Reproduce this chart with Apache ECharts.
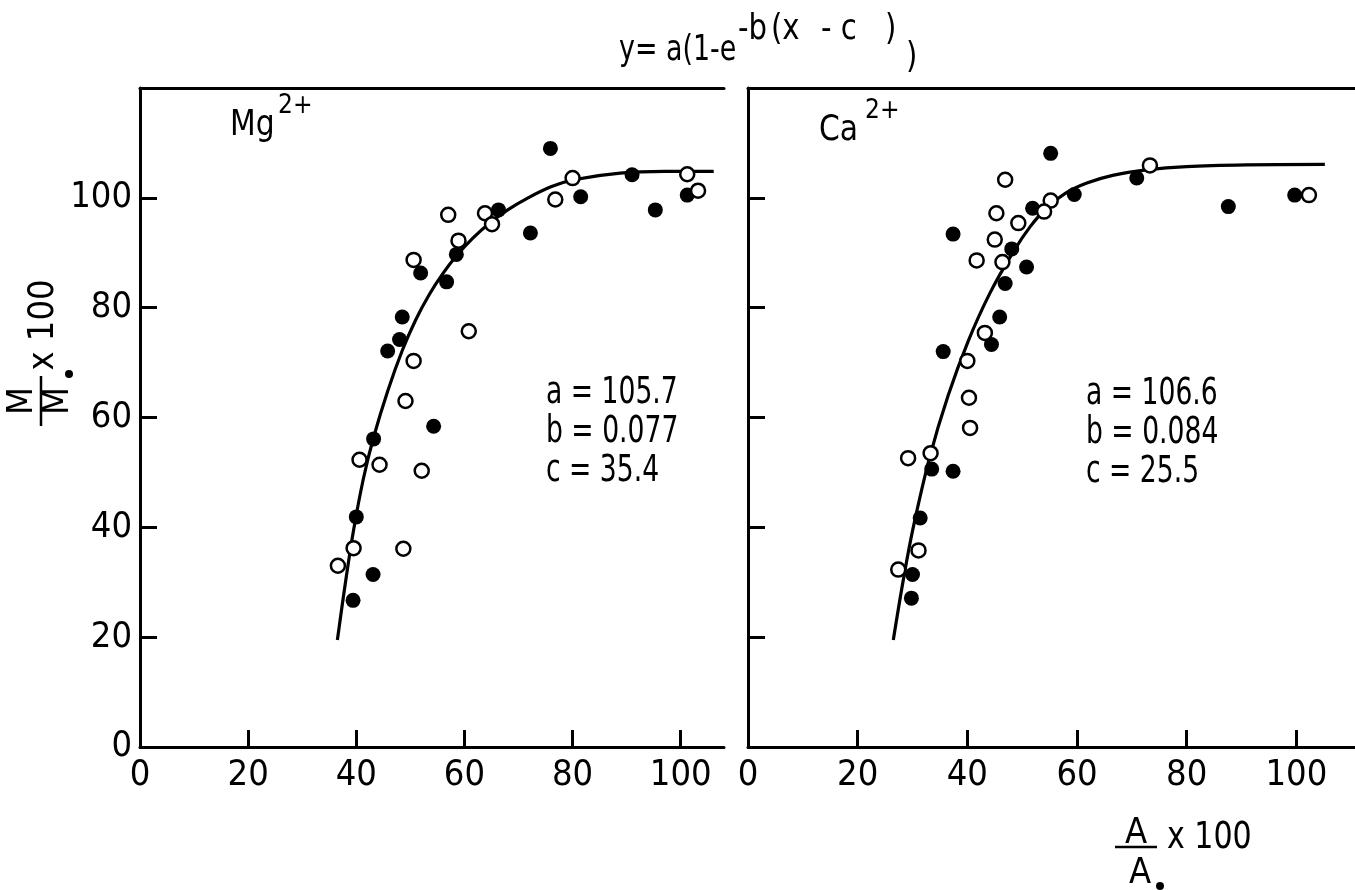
<!DOCTYPE html>
<html>
<head>
<meta charset="utf-8">
<script src="https://cdn.jsdelivr.net/npm/echarts@6/dist/echarts.min.js"></script>
<style>
  html, body { margin: 0; padding: 0; background: #fff; }
  #chart { width: 1355px; height: 890px; }
</style>
</head>
<body>
<div id="chart"></div>
<script>
// Mg2+ panel: filled and open symbols, and the fitted saturation curve
const mgFilled = [[91.0,104.2],[101.2,100.5],[81.5,100.2],[95.3,97.8],[66.3,97.8],[72.2,93.6],[58.5,89.7],[51.9,86.3],[56.7,84.7],[48.5,78.3],[48.0,74.2],[45.8,72.1],[54.3,58.4],[43.2,56.1],[40.0,41.9],[43.1,31.4],[39.4,26.7],[75.9,109.0]];
const mgOpen = [[80.0,103.6],[101.2,104.3],[103.2,101.3],[76.8,99.7],[57.0,96.9],[63.8,97.2],[65.1,95.2],[58.9,92.2],[50.6,88.7],[60.8,75.7],[50.6,70.3],[49.1,63.0],[40.6,52.3],[44.3,51.4],[52.1,50.3],[39.5,36.2],[48.7,36.1],[36.6,33.0]];
const mgCurve = [[36.5,19.5],[38.0,30.0],[39.5,39.5],[41.3,48.8],[43.2,56.4],[45.8,64.8],[48.5,72.2],[51.0,77.8],[53.5,82.4],[56.0,86.2],[58.5,89.4],[61.5,92.6],[64.5,95.3],[68.0,97.8],[71.6,99.9],[76.0,102.0],[80.2,103.3],[88.8,104.5],[97.0,104.8],[106.1,104.8]];

// Ca2+ panel
const caFilled = [[99.7,100.5],[87.6,98.4],[70.9,103.6],[59.5,100.6],[51.9,98.1],[37.4,93.4],[48.1,90.7],[50.8,87.4],[46.9,84.4],[45.9,78.3],[44.4,73.3],[35.6,72.0],[33.5,50.6],[37.4,50.2],[31.4,41.7],[30.0,31.4],[29.8,27.1],[55.2,108.1]];
const caOpen = [[73.3,105.9],[46.9,103.3],[102.3,100.5],[55.2,99.5],[45.3,97.2],[54.0,97.5],[49.3,95.4],[45.0,92.4],[41.7,88.6],[46.4,88.3],[43.2,75.4],[40.0,70.3],[40.3,63.6],[40.5,58.1],[29.2,52.6],[33.3,53.5],[31.1,35.8],[27.4,32.3]];
const caCurve = [[26.5,19.5],[28.3,30.3],[30.1,39.8],[33.2,53.0],[36.5,64.0],[40.2,74.0],[44.1,82.6],[48.4,90.2],[51.5,94.8],[54.5,98.2],[58.0,100.9],[61.8,102.7],[66.5,104.1],[72.7,105.1],[80.0,105.7],[90.9,106.0],[105.2,106.1]];

// Tick values and fit parameters
const xTicks = [0, 20, 40, 60, 80, 100];
const yLabels = [0, 20, 40, 60, 80, 100];
const yInnerTicks = [20, 40, 60, 80, 100];
const mgParams = ['a = 105.7', 'b = 0.077', 'c = 35.4'];
const caParams = ['a = 106.6', 'b = 0.084', 'c = 25.5'];

const FONT = "'Liberation Sans Narrow', 'DejaVu Sans Condensed', 'Liberation Sans', sans-serif";
const INK = '#000';
const axisLine = { show: true, onZero: false, lineStyle: { color: INK, width: 3 } };

function bottomAxis(grid, max) {
  return {
    gridIndex: grid, type: 'value', min: 0, max: max, position: 'bottom',
    axisLine: axisLine,
    axisTick: { show: true, inside: true, length: 17, customValues: xTicks, lineStyle: { color: INK, width: 3 } },
    axisLabel: { show: true, customValues: xTicks, color: INK, fontSize: 36, fontFamily: FONT, margin: 11 },
    splitLine: { show: false }
  };
}
function topAxis(grid, max) {
  return {
    gridIndex: grid, type: 'value', min: 0, max: max, position: 'top',
    axisLine: axisLine, axisTick: { show: false }, axisLabel: { show: false }, splitLine: { show: false }
  };
}
function leftAxis(grid, labels) {
  return {
    gridIndex: grid, type: 'value', min: 0, max: 120, position: 'left',
    axisLine: axisLine,
    axisTick: { show: true, inside: true, length: 17, customValues: yInnerTicks, lineStyle: { color: INK, width: 3 } },
    axisLabel: labels
      ? { show: true, customValues: yLabels, color: INK, fontSize: 36, fontFamily: FONT, margin: 8 }
      : { show: false },
    splitLine: { show: false }
  };
}

function curve(data, xi, yi) {
  return { type: 'line', data: data, xAxisIndex: xi, yAxisIndex: yi, smooth: 0.35,
    symbol: 'none', lineStyle: { color: INK, width: 3.2 }, z: 2, silent: true };
}
function filled(data, xi, yi) {
  return { type: 'scatter', data: data, xAxisIndex: xi, yAxisIndex: yi, symbolSize: 15,
    itemStyle: { color: INK, opacity: 1 }, z: 3, silent: true };
}
function open(data, xi, yi) {
  return { type: 'scatter', data: data, xAxisIndex: xi, yAxisIndex: yi, symbolSize: 14,
    itemStyle: { color: '#fff', borderColor: INK, borderWidth: 2.5, opacity: 1 }, z: 4, silent: true };
}

// text helper: left/center aligned, optional horizontal squeeze and rotation
function txt(x, y, s, size, opts) {
  opts = opts || {};
  return { type: 'text', x: x, y: y, silent: true,
    scaleX: opts.sx || 1, rotation: opts.rot || 0,
    style: { text: s, fontSize: size, fontFamily: FONT, fill: INK,
      align: opts.align || 'left', verticalAlign: 'middle' } };
}
function paramBlock(x, y0, lines) {
  return lines.map((s, i) => txt(x, y0 + i * 39, s, 37, { sx: 0.8 }));
}
const up = Math.PI / 2;

const graphics = [
  // formula heading
  txt(619, 51, 'y= a(1-e', 36, { sx: 0.83 }),
  txt(738, 30, '-b', 36, { sx: 0.9 }),
  txt(771, 30, '(x', 36, { sx: 0.9 }),
  txt(821, 30, '- c', 36, { sx: 0.9 }),
  txt(885, 30, ')', 36, { sx: 0.9 }),
  txt(906, 58, ')', 36, { sx: 0.9 }),
  // panel labels
  txt(230, 126, 'Mg', 36, { sx: 0.92 }),
  txt(278, 106, '2+', 26),
  txt(819, 131, 'Ca', 36, { sx: 0.92 }),
  txt(865, 111, '2+', 26),
  // y-axis name: M / M° x 100, reading upwards
  txt(23, 401, 'M', 36, { rot: up, align: 'center' }),
  { type: 'line', silent: true, shape: { x1: 41, y1: 376, x2: 41, y2: 426 }, style: { stroke: INK, lineWidth: 2.5 } },
  txt(59, 401, 'M', 36, { rot: up, align: 'center' }),
  { type: 'circle', silent: true, shape: { cx: 69, cy: 374, r: 3 }, style: { fill: INK, stroke: INK, lineWidth: 2 } },
  txt(44, 325, 'x 100', 36, { rot: up, align: 'center' }),
  // x-axis name: A / A° x 100
  txt(1136, 834, 'A', 36, { align: 'center' }),
  { type: 'line', silent: true, shape: { x1: 1115, y1: 847, x2: 1157, y2: 847 }, style: { stroke: INK, lineWidth: 2.5 } },
  txt(1140, 874, 'A', 36, { align: 'center' }),
  { type: 'circle', silent: true, shape: { cx: 1160, cy: 886, r: 3 }, style: { fill: INK, stroke: INK, lineWidth: 2 } },
  txt(1167, 838, 'x 100', 38, { sx: 0.88 })
].concat(paramBlock(546, 393, mgParams), paramBlock(1086, 394, caParams));

const chart = echarts.init(document.getElementById('chart'), null, { renderer: 'canvas' });
chart.setOption({
  animation: false,
  backgroundColor: '#fff',
  grid: [
    { left: 140, top: 88, width: 584, height: 659 },
    { left: 748, top: 88, width: 607, height: 659 }
  ],
  xAxis: [bottomAxis(0, 108), topAxis(0, 108), bottomAxis(1, 110.7), topAxis(1, 110.7)],
  yAxis: [leftAxis(0, true), leftAxis(1, false)],
  series: [
    curve(mgCurve, 0, 0), filled(mgFilled, 0, 0), open(mgOpen, 0, 0),
    curve(caCurve, 2, 1), filled(caFilled, 2, 1), open(caOpen, 2, 1)
  ],
  graphic: graphics
});
</script>
</body>
</html>
